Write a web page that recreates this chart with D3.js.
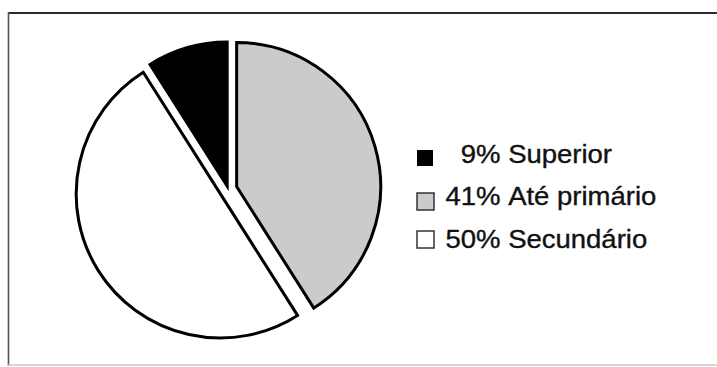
<!DOCTYPE html>
<html>
<head>
<meta charset="utf-8">
<script src="https://cdn.jsdelivr.net/npm/d3@7"></script>
<style>
  html, body { margin: 0; padding: 0; background: #ffffff; }
  svg { display: block; }
</style>
</head>
<body>
<svg id="chart" width="717" height="367"></svg>
<script>
// ---- data ----
const categories = ["Superior", "Até primário", "Secundário"];
const percents = [9, 41, 50];
const fills = ["#000000", "#cbcbcb", "#ffffff"];

// ---- layout ----
const W = 717, H = 367;
const cx = 228, cy = 189, R = 144;
const explode = [3, 9, 9];

const svg = d3.select("#chart");

// frame
svg.append("line").attr("x1", 8.5).attr("y1", 13).attr("x2", W + 5).attr("y2", 13)
  .attr("stroke", "#2a2a2a").attr("stroke-width", 2);
svg.append("line").attr("x1", 8.5).attr("y1", 12).attr("x2", 8.5).attr("y2", 366)
  .attr("stroke", "#555").attr("stroke-width", 1.6);
svg.append("line").attr("x1", 8).attr("y1", 365).attr("x2", W + 5).attr("y2", 365)
  .attr("stroke", "#c8c8c8").attr("stroke-width", 1.5);

const total = d3.sum(percents);
const start = -percents[0] / total * 2 * Math.PI;
const pie = d3.pie().sort(null).value(d => d)
  .startAngle(start).endAngle(start + 2 * Math.PI);
const arcs = pie(percents);
const arc = d3.arc().innerRadius(0).outerRadius(R);

const g = svg.append("g").attr("transform", `translate(${cx},${cy})`);
g.selectAll("path").data(arcs).join("path")
  .attr("d", arc)
  .attr("transform", (d, i) => {
    const a = (d.startAngle + d.endAngle) / 2;
    return `translate(${explode[i] * Math.sin(a)},${-explode[i] * Math.cos(a)})`;
  })
  .attr("fill", (d, i) => fills[i])
  .attr("stroke", "#000")
  .attr("stroke-width", 3)
  .attr("stroke-linejoin", "miter");

// legend
const rowY = [163, 205, 248];
const boxes = [
  { x: 417, y: 150, s: 16 },
  { x: 417, y: 193, s: 17 },
  { x: 417, y: 231, s: 17 }
];
categories.forEach((c, i) => {
  const b = boxes[i];
  svg.append("rect").attr("x", b.x).attr("y", b.y).attr("width", b.s).attr("height", b.s)
    .attr("fill", fills[i])
    .attr("stroke", i === 0 ? "#000" : "#333")
    .attr("stroke-width", i === 0 ? 0 : 1.5);
  const lg = svg.append("g").attr("transform", `translate(445,${rowY[i]}) scale(1.1,1)`)
    .attr("font-family", "Liberation Sans, Arial, sans-serif")
    .attr("font-size", 25).attr("fill", "#111")
    .attr("stroke", "#111").attr("stroke-width", 0.35);
  lg.append("text").attr("x", 50.4).attr("y", 0)
    .attr("text-anchor", "end")
    .text(percents[i] + "%");
  lg.append("text").attr("x", 57.4).attr("y", 0)
    .text(c);
});
</script>
</body>
</html>
